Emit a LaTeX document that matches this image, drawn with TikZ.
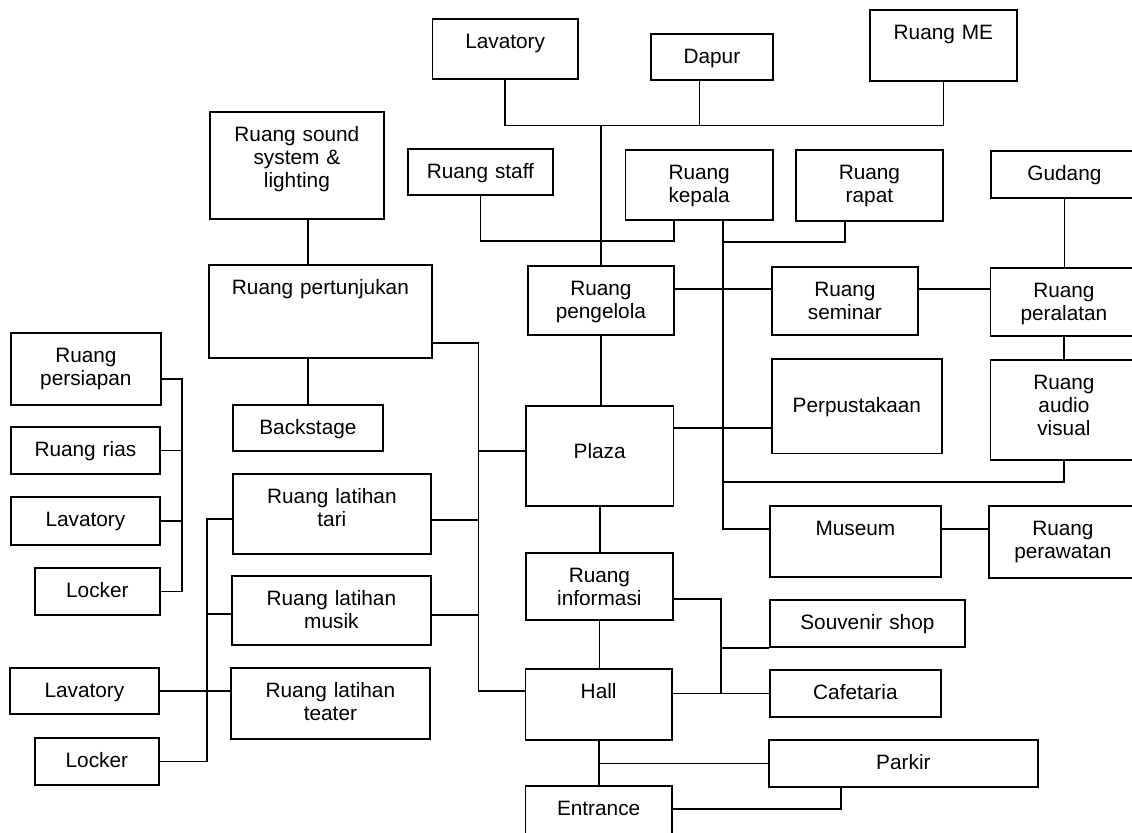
\documentclass[tikz,border=0pt]{standalone}
\usepackage{fontspec}
\setmainfont{Liberation Sans}
\tikzset{
  room/.style={draw, anchor=north west, inner sep=0pt, align=center,
    text height=15pt, font=\fontsize{10.4}{11.5}\selectfont}
}

\begin{document}
\begin{tikzpicture}[x=1pt,y=-1pt,line width=.9pt]
\useasboundingbox (0,0) rectangle (566,416);
% ruang-ruang
\node [room, text width=72.75pt, text depth=15pt] (lavtop) at (215.75,9) {Lavatory};
\node [room, text width=61pt, text depth=8pt] (dapur) at (325,16.5) {Dapur};
\node [room, text width=73.5pt, text depth=20.5pt] (me) at (434.5,4.5) {Ruang ME};
\node [room, text width=87pt, text depth=38.5pt] (sound) at (104.5,55.5) {Ruang sound\\system \&\\lighting};
\node [room, text width=72.5pt, text depth=8pt] (staff) at (203.5,74) {Ruang staff};
\node [room, text width=73.75pt, text depth=20pt] (kepala) at (312.25,74.5) {Ruang\\kepala};
\node [room, text width=73.5pt, text depth=20.5pt] (rapat) at (397.5,74.5) {Ruang\\rapat};
\node [room, text width=73.5pt, text depth=8.5pt] (gudang) at (495,75) {Gudang};
\node [room, text width=111.5pt, text depth=31.5pt] (pertunjukan) at (104,132) {Ruang pertunjukan};
\node [room, text width=73pt, text depth=19.5pt] (pengelola) at (263.5,132.5) {Ruang\\pengelola};
\node [room, text width=73pt, text depth=19pt] (seminar) at (385.5,133) {Ruang\\seminar};
\node [room, text width=73.5pt, text depth=19pt] (peralatan) at (494.75,133.5) {Ruang\\peralatan};
\node [room, text width=75pt, text depth=21pt] (persiapan) at (5,166) {Ruang\\persiapan};
\node [room, text width=85pt, text height=27pt, text depth=20.25pt] (perpus) at (385.5,179) {Perpustakaan};
\node [room, text width=73.5pt, text depth=35pt] (audio) at (494.75,179.5) {Ruang\\audio\\visual};
\node [room, text width=75pt, text depth=8pt] (backstage) at (116,202) {Backstage};
\node [room, text width=73.75pt, text height=26.5pt, text depth=23.5pt] (plaza) at (262.5,202.5) {Plaza};
\node [room, text width=74.5pt, text depth=8.5pt] (rias) at (5,213) {Ruang rias};
\node [room, text width=99pt, text depth=25pt] (tari) at (116,236.5) {Ruang latihan\\tari};
\node [room, text width=74.5pt, text depth=9pt] (lavkiri) at (5,248) {Lavatory};
\node [room, text width=85.5pt, text depth=20.5pt] (museum) at (384.5,252.5) {Museum};
\node [room, text width=74pt, text depth=21pt] (perawatan) at (494,252.5) {Ruang\\perawatan};
\node [room, text width=73.5pt, text depth=18.5pt] (informasi) at (262.5,276) {Ruang\\informasi};
\node [room, text width=62.5pt, text depth=8.5pt] (locker) at (17,283.5) {Locker};
\node [room, text width=99.5pt, text depth=19.5pt] (musik) at (115.5,287.5) {Ruang latihan\\musik};
\node [room, text width=97.5pt, text depth=8.5pt] (souvenir) at (384.5,299.5) {Souvenir shop};
\node [room, text width=99.5pt, text depth=20.5pt] (teater) at (115,333.5) {Ruang latihan\\teater};
\node [room, text width=74.5pt, text depth=8pt] (lavbawah) at (4.5,333.5) {Lavatory};
\node [room, text width=73.25pt, text depth=20.5pt] (hall) at (262.25,334) {Hall};
\node [room, text width=85.5pt, text depth=8.5pt] (cafetaria) at (384.5,334.5) {Cafetaria};
\node [room, text width=62pt, text depth=8.5pt] (lockerbawah) at (17,368.5) {Locker};
\node [room, text width=134.5pt, text depth=8.5pt] (parkir) at (384,369.5) {Parkir};
\node [room, text width=73.25pt, text depth=15pt] (entrance) at (262.25,392.5) {Entrance};
% hubungan atas
\coordinate (atas) at (0,62.75);
\draw (lavtop.south) |- (atas -| me.south) -- (me.south);
\draw ([xshift=-6.25pt]dapur.south) -- ([xshift=-6.25pt]dapur.south |- atas);
\draw (pengelola.north) -- (pengelola.north |- atas);
\draw (staff.south) |- ([xshift=-12.6pt]kepala.south |- 0,120.5) -- ([xshift=-12.6pt]kepala.south);
\coordinate (kspine) at ([xshift=11.9pt]kepala.south);
\draw (kspine) |- (museum.west |- 0,264.5);
\draw ([xshift=-12.25pt]rapat.south) |- (kspine |- 0,121);
\draw (pengelola.east |- 0,144.5) -- (seminar.west |- 0,144.5);
\draw (seminar.east |- 0,144.5) -- (peralatan.west |- 0,144.5);
\draw (gudang.south) -- (gudang.south |- peralatan.north);
\draw (peralatan.south) -- (audio.north);
\draw (audio.south) |- (kspine |- 0,241);
\draw (plaza.east |- 0,214) -- (perpus.west |- 0,214);
\draw (museum.east |- 0,264.5) -- (perawatan.west |- 0,264.5);
% sumbu tengah
\draw (pengelola.south) -- (pengelola.south |- plaza.north);
\draw (plaza.south) -- (plaza.south |- informasi.north);
\draw (informasi.south) -- (informasi.south |- hall.north);
\draw (hall.south) -- (hall.south |- entrance.north);
\coordinate (info) at (360.5,299.5);
\draw (informasi.east |- info) -- (info) -- (info |- cafetaria.west);
\draw (souvenir.south west) -- (souvenir.south west -| info);
\draw (hall.east |- cafetaria.west) -- (cafetaria.west);
\draw (parkir.west) -- (parkir.west -| hall.south);
\draw (entrance.east |- 0,404.5) -| ([xshift=-31.25pt]parkir.south);
% sisi kiri
\coordinate (pspine) at (239.25,171.5);
\draw (pertunjukan.east |- pspine) -- (pspine) |- (hall.west |- 0,345.5);
\draw (tari.east |- 0,260) -- (pspine |- 0,260);
\draw (musik.east |- 0,307.5) -- (pspine |- 0,307.5);
\draw (plaza.west |- 0,225.5) -- (pspine |- 0,225.5);
\draw (sound.south -| backstage.north) -- (pertunjukan.north -| backstage.north);
\draw (pertunjukan.south -| backstage.north) -- (backstage.north);
\coordinate (kiri1) at (91,189.5);
\draw (persiapan.east |- kiri1) -- (kiri1) |- (locker.east);
\draw (rias.east) -- (rias.east -| kiri1);
\draw (lavkiri.east) -- (lavkiri.east -| kiri1);
\coordinate (kiri2) at (103.5,259.5);
\draw (tari.west |- kiri2) -- (kiri2) |- (lockerbawah.east);
\draw (musik.west |- 0,307) -- (kiri2 |- 0,307);
\draw (lavbawah.east) -- (teater.west |- lavbawah.east);
\end{tikzpicture}
\end{document}
